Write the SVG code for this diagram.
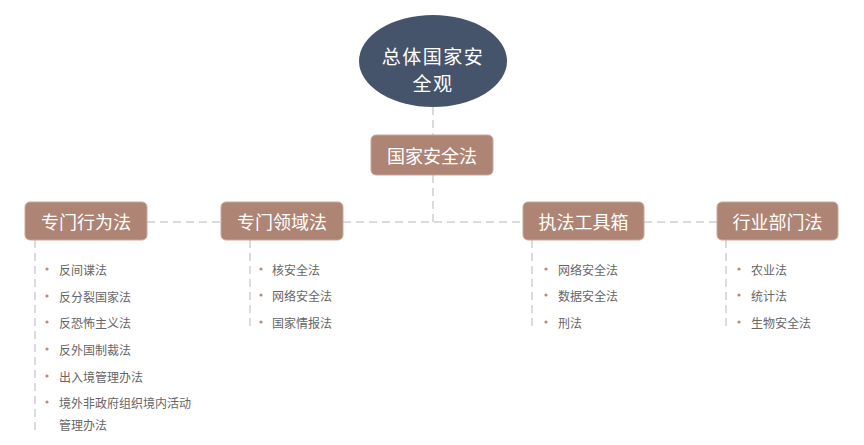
<svg xmlns="http://www.w3.org/2000/svg" width="864" height="445" viewBox="0 0 864 445">
<style>
.box{fill:#ae8474;stroke:#c9a99c;stroke-width:1}
.bt{font-family:"Noto Sans CJK SC",sans-serif;font-size:18px;fill:#fff;text-anchor:middle;dominant-baseline:central}
.it{font-family:"Noto Sans CJK SC",sans-serif;font-size:12px;fill:#666;dominant-baseline:central}
.dot{fill:#b88a7a}
.ln{stroke:#cfcfcf;stroke-width:1.5;stroke-dasharray:8 5;fill:none}
</style>
<rect width="864" height="445" fill="#fff"/>
<g id="connectors">
<line class="ln" x1="433" y1="107" x2="433" y2="135"/>
<line class="ln" x1="433" y1="175" x2="433" y2="222"/>
<line class="ln" x1="147" y1="222" x2="221" y2="222"/>
<line class="ln" x1="343" y1="222" x2="523" y2="222"/>
<line class="ln" x1="644" y1="222" x2="717" y2="222"/>
<line class="ln" x1="35" y1="240" x2="35" y2="432"/>
<line class="ln" x1="250" y1="240" x2="250" y2="330"/>
<line class="ln" x1="532" y1="240" x2="532" y2="330"/>
<line class="ln" x1="726" y1="240" x2="726" y2="330"/>
</g>
<g id="root">
<ellipse cx="433" cy="61" rx="74" ry="46" fill="#45546b"/>
<text class="bt" x="433" y="55" style="font-size:19px;letter-spacing:1.5px">总体国家安</text>
<text class="bt" x="433" y="82" style="font-size:19px;letter-spacing:1.5px">全观</text>
</g>
<g id="gjaqf">
<rect class="box" x="371" y="135" width="122" height="40" rx="5"/>
<text class="bt" x="432" y="155">国家安全法</text>
</g>
<g id="zmxwf">
<rect class="box" x="25" y="202" width="122" height="38" rx="5"/>
<text class="bt" x="86" y="221">专门行为法</text>
<circle class="dot" cx="47" cy="269" r="1.6"/><text class="it" x="59" y="269">反间谍法</text>
<circle class="dot" cx="47" cy="296" r="1.6"/><text class="it" x="59" y="296">反分裂国家法</text>
<circle class="dot" cx="47" cy="322" r="1.6"/><text class="it" x="59" y="322">反恐怖主义法</text>
<circle class="dot" cx="47" cy="349" r="1.6"/><text class="it" x="59" y="349">反外国制裁法</text>
<circle class="dot" cx="47" cy="376" r="1.6"/><text class="it" x="59" y="376">出入境管理办法</text>
<circle class="dot" cx="47" cy="402" r="1.6"/><text class="it" x="59" y="402">境外非政府组织境内活动</text>
<text class="it" x="59" y="424">管理办法</text>
</g>
<g id="zmlyf">
<rect class="box" x="221" y="202" width="122" height="38" rx="5"/>
<text class="bt" x="282" y="221">专门领域法</text>
<circle class="dot" cx="261" cy="269" r="1.6"/><text class="it" x="272" y="269">核安全法</text>
<circle class="dot" cx="261" cy="295" r="1.6"/><text class="it" x="272" y="295">网络安全法</text>
<circle class="dot" cx="261" cy="322" r="1.6"/><text class="it" x="272" y="322">国家情报法</text>
</g>
<g id="zfgjx">
<rect class="box" x="523" y="202" width="121" height="38" rx="5"/>
<text class="bt" x="583.5" y="221">执法工具箱</text>
<circle class="dot" cx="546" cy="269" r="1.6"/><text class="it" x="558" y="269">网络安全法</text>
<circle class="dot" cx="546" cy="295" r="1.6"/><text class="it" x="558" y="295">数据安全法</text>
<circle class="dot" cx="546" cy="322" r="1.6"/><text class="it" x="558" y="322">刑法</text>
</g>
<g id="hybmf">
<rect class="box" x="717" y="202" width="121" height="38" rx="5"/>
<text class="bt" x="777.5" y="221">行业部门法</text>
<circle class="dot" cx="739" cy="269" r="1.6"/><text class="it" x="751" y="269">农业法</text>
<circle class="dot" cx="739" cy="295" r="1.6"/><text class="it" x="751" y="295">统计法</text>
<circle class="dot" cx="739" cy="322" r="1.6"/><text class="it" x="751" y="322">生物安全法</text>
</g>
</svg>
